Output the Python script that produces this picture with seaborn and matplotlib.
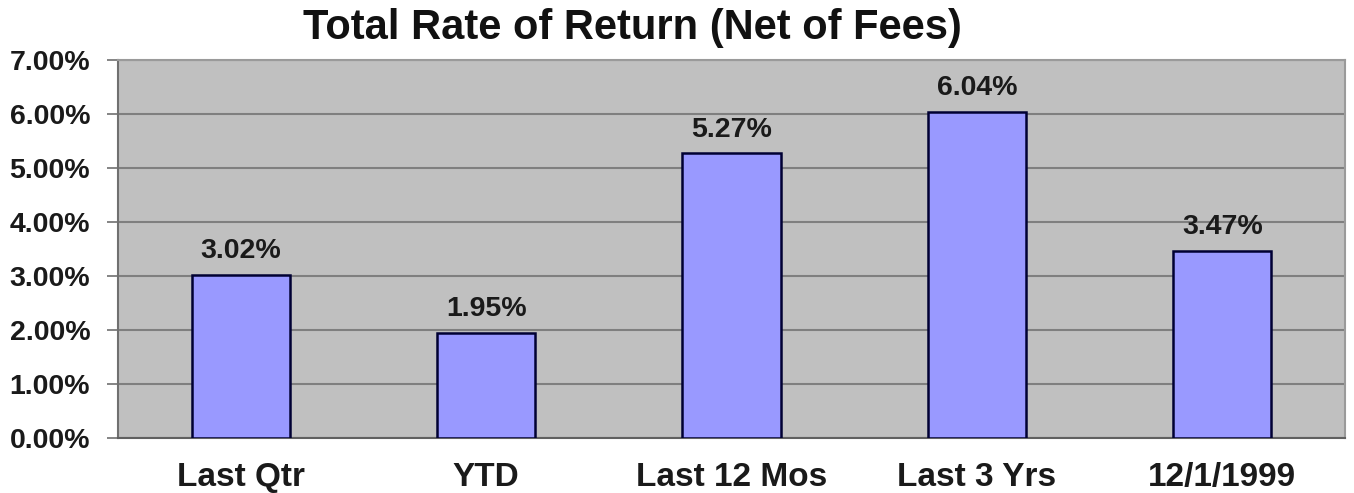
import matplotlib
matplotlib.use("Agg")
import matplotlib.pyplot as plt
import seaborn as sns
import pandas as pd
from matplotlib.ticker import FuncFormatter

periods = ["Last Qtr", "YTD", "Last 12 Mos", "Last 3 Yrs", "12/1/1999"]
returns = [3.02, 1.95, 5.27, 6.04, 3.47]
y_ticks = [0, 1, 2, 3, 4, 5, 6, 7]

sns.set_theme(style="white")
plt.rcParams["font.family"] = ["Liberation Sans", "DejaVu Sans"]
plt.rcParams["font.weight"] = "bold"

df = pd.DataFrame({"period": periods, "ret": returns})

fig = plt.figure(figsize=(13.54, 4.93), dpi=100)
ax = fig.add_axes([118 / 1354, 1 - 438 / 493, (1345 - 118) / 1354, (438 - 60) / 493])
ax.set_facecolor("#C0C0C0")

sns.barplot(data=df, x="period", y="ret", ax=ax, color="#9999FF",
            saturation=1, width=0.4, edgecolor="#000033", linewidth=1.8, zorder=3)

ax.set_ylim(0, 7)
ax.set_yticks(y_ticks)
ax.yaxis.set_major_formatter(FuncFormatter(lambda v, _: f"{v:.2f}%"))
ax.grid(axis="y", color="#7F7F7F", linewidth=1.5, zorder=1)
ax.set_axisbelow(True)
ax.set_xlabel("")
ax.set_ylabel("")

for side in ["top", "right"]:
    ax.spines[side].set_color("#9A9A9A")
    ax.spines[side].set_linewidth(1.5)
ax.spines["left"].set_color("#707070")
ax.spines["bottom"].set_color("#606060")
ax.spines["left"].set_linewidth(1.5)
ax.spines["bottom"].set_linewidth(1.5)

ax.tick_params(axis="y", left=True, length=8, width=1.2, color="#707070",
               labelsize=20.5, pad=12)
ax.tick_params(axis="x", bottom=False, labelsize=24, pad=11)
for lbl in ax.get_xticklabels() + ax.get_yticklabels():
    lbl.set_fontweight("bold")
    lbl.set_color("#1A1A1A")

for i, v in enumerate(returns):
    ax.text(i, v + 0.2, f"{v:.2f}%", ha="center", va="bottom",
            fontsize=20.5, fontweight="bold", color="#1A1A1A", zorder=4)

fig.text(632 / 1354, 1 - 28 / 493, "Total Rate of Return (Net of Fees)",
         ha="center", va="center", fontsize=30, fontweight="bold", color="#111111")

fig.savefig("out.png", dpi=100, facecolor="white")
